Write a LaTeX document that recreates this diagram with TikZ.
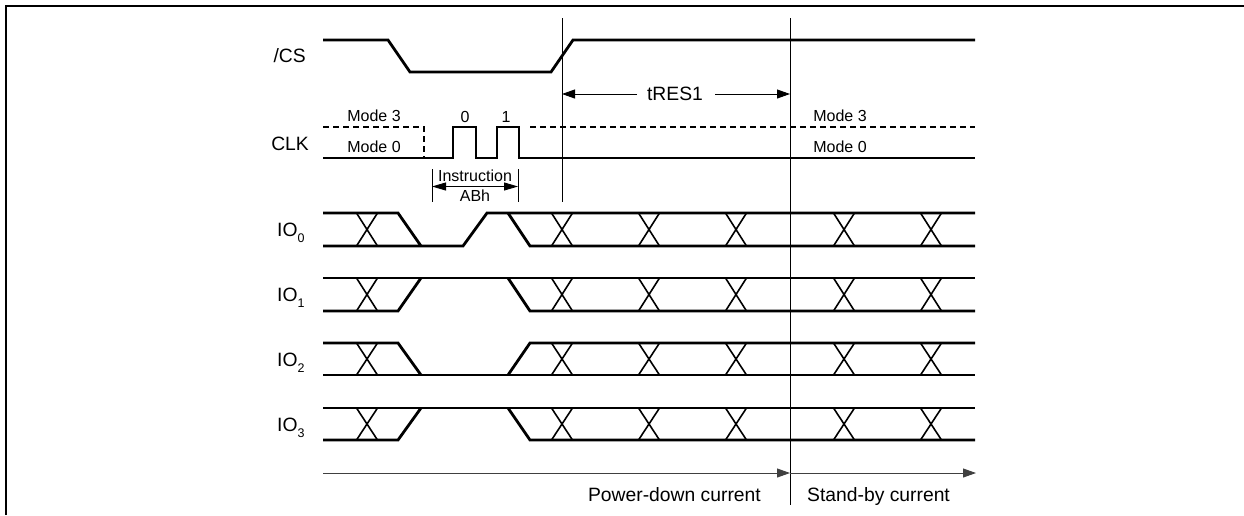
\documentclass[tikz,border=0pt]{standalone}
\usepackage{fontspec}
\setmainfont{Liberation Sans}
\usetikzlibrary{arrows.meta}
\begin{document}
\begin{tikzpicture}[x=1pt,y=-1pt,
  sig/.style={line width=2.8pt, line join=miter},
  xx/.style={line width=1.6pt},
  hair/.style={line width=0.9pt},
  dsh/.style={line width=2.8pt, dash pattern=on 6pt off 4pt},
  lbl/.style={font=\fontsize{19.3}{22}\selectfont, inner sep=0pt},
  sm/.style={font=\fontsize{16}{19}\selectfont, inner sep=0pt},
  tip/.style={-{Triangle[length=13pt,width=9pt]}},
]
\useasboundingbox (0,0) rectangle (1244,515);
% frame
\draw[line width=2pt] (6,515) -- (6,6) -- (1244,6);

% vertical timing lines
\coordinate (v1t) at (562,18);
\coordinate (v1b) at (562,202);
\coordinate (v2t) at (790,18);
\coordinate (v2b) at (790,505);
\draw[hair] (v1t) -- (v1b);
\draw[hair] (v2t) -- (v2b);

% labels
\node[lbl,anchor=base east] (cs) at (306,62) {/CS};
\node[lbl,anchor=base east] (clk) at (309,150) {CLK};
\node[lbl,anchor=base west] (io0) at (277,236) {IO\raisebox{-6pt}{\fontsize{12.5}{14}\selectfont 0}};
\node[lbl,anchor=base west] (io1) at (277,301) {IO\raisebox{-6pt}{\fontsize{12.5}{14}\selectfont 1}};
\node[lbl,anchor=base west] (io2) at (277,366) {IO\raisebox{-6pt}{\fontsize{12.5}{14}\selectfont 2}};
\node[lbl,anchor=base west] (io3) at (277,431) {IO\raisebox{-6pt}{\fontsize{12.5}{14}\selectfont 3}};

% /CS
\draw[sig] (323,40) -- (388,40) -- (410,72) -- (551,72) -- (573,40) -- (975,40);

% tRES1
\node[lbl,anchor=base] (tres) at (675,100.5) {tRES1};
\coordinate (t1) at (562,94);
\coordinate (t2) at (790,94);
\draw[hair,tip] (637,94) -- (t1);
\draw[hair,tip] (715,94) -- (t2);

% CLK
\node[sm,anchor=base] (m3l) at (374,121) {Mode 3};
\node[sm,anchor=base] (m0l) at (374,152) {Mode 0};
\node[sm,anchor=base] (m3r) at (840,121) {Mode 3};
\node[sm,anchor=base] (m0r) at (840,152) {Mode 0};
\node[sm,anchor=base] (c0) at (465,122) {0};
\node[sm,anchor=base] (c1) at (506,122) {1};
\draw[dsh] (323,127) -- (424,127) -- (424,158);
\draw[dsh] (530,127) -- (975,127);
\draw[sig] (323,158) -- (453,158) -- (453,127) -- (476,127) -- (476,158) -- (497,158) -- (497,127) -- (519,127) -- (519,158) -- (975,158);

% Instruction
\node[sm,anchor=base] (ins) at (475,181) {Instruction};
\node[sm,anchor=base] (abh) at (475,201) {ABh};
\coordinate (ia) at (432,186.5);
\coordinate (ib) at (518,186.5);
\draw[hair] (432,169) -- (432,202);
\draw[hair] (518,169) -- (518,202);
\draw[hair,{Triangle[length=14pt,width=8pt]}-{Triangle[length=14pt,width=8pt]}] (ia) -- (ib);

% X marks
\foreach \t/\b in {213/246,278/311,343/375,408/440}{
  \foreach \c in {367,562,649,736,844,931}{
    \draw[xx] (\c-10.5,\t) -- (\c+10.5,\b) (\c-10.5,\b) -- (\c+10.5,\t);
  }
}

% IO0
\draw[sig] (323,213) -- (398,213) -- (421,246);
\draw[sig] (323,246) -- (463,246) -- (487,213) -- (975,213);
\draw[sig] (508,213) -- (530,246) -- (975,246);
% IO1
\draw[sig] (323,278) -- (975,278);
\draw[sig] (323,311) -- (398,311) -- (421,278);
\draw[sig] (508,278) -- (530,311) -- (975,311);
% IO2
\draw[sig] (323,343) -- (398,343) -- (421,375);
\draw[sig] (323,375) -- (975,375);
\draw[sig] (508,375) -- (530,343) -- (975,343);
% IO3
\draw[sig] (323,408) -- (975,408);
\draw[sig] (323,440) -- (398,440) -- (421,408);
\draw[sig] (508,408) -- (530,440) -- (975,440);

% current arrows
\coordinate (a0) at (323,473);
\coordinate (a1) at (790,473);
\coordinate (a2) at (976,473);
\draw[hair,black!75,tip] (a0) -- (a1);
\draw[hair,black!75,tip] (a1) -- (a2);
\node[lbl,anchor=base east] (pd) at (761,501) {Power-down current};
\node[lbl,anchor=base west] (sb) at (807,501) {Stand-by current};
\end{tikzpicture}
\end{document}
